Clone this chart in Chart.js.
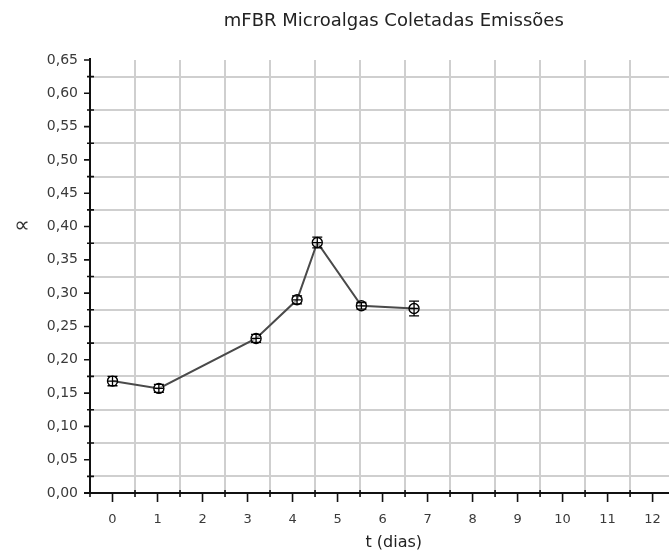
<!DOCTYPE html>
<html>
<head>
<meta charset="utf-8">
<script src="https://cdn.jsdelivr.net/npm/chart.js@4.4.1/dist/chart.umd.min.js"></script>
<style>
  html, body { margin: 0; padding: 0; background: #fff; overflow: hidden; }
</style>
</head>
<body>
<canvas id="chart" width="704" height="554"></canvas>
<script>
// measured values (t in days, alpha)
const days = [0, 1.03, 3.19, 4.1, 4.55, 5.53, 6.7];
const alpha = [0.168, 0.157, 0.232, 0.290, 0.376, 0.281, 0.277];
const alphaErr = [0.007, 0.006, 0.006, 0.006, 0.008, 0.005, 0.011];
const daysErr = [0.1, 0.1, 0.1, 0.1, 0.1, 0.1, 0.1];

const xMin = -0.5, xMax = 13, xStep = 0.5;
const yMin = 0, yMax = 0.65, yStep = 0.025;

const FONT = 'DejaVu Sans';

function makeTicks(min, max, step) {
    const out = [];
    const n = Math.round((max - min) / step);
    for (let i = 0; i <= n; i++) out.push({ value: +(min + i * step).toFixed(4) });
    return out;
}
const isMajorX = v => Math.abs(v - Math.round(v)) < 1e-6;
const isMajorY = v => Math.round(v * 1000) % 50 === 0;

// axis lines, tick marks, error bars and the y label
const axisPlugin = {
    id: 'axisPlugin',
    afterDatasetsDraw(chart) {
        const { ctx, scales: { x, y } } = chart;
        ctx.save();
        ctx.strokeStyle = '#000';
        ctx.lineWidth = 1.3;
        days.forEach((d, i) => {
            const px = x.getPixelForValue(d);
            const top = y.getPixelForValue(alpha[i] + alphaErr[i]);
            const bot = y.getPixelForValue(alpha[i] - alphaErr[i]);
            const py = y.getPixelForValue(alpha[i]);
            const l = x.getPixelForValue(d - daysErr[i]);
            const r = x.getPixelForValue(d + daysErr[i]);
            ctx.beginPath();
            ctx.moveTo(px, top); ctx.lineTo(px, bot);
            ctx.moveTo(px - 5, top); ctx.lineTo(px + 5, top);
            ctx.moveTo(px - 5, bot); ctx.lineTo(px + 5, bot);
            ctx.moveTo(l, py); ctx.lineTo(r, py);
            ctx.stroke();
        });
        ctx.restore();
    },
    afterDraw(chart) {
        const { ctx, chartArea: a, scales: { x, y } } = chart;
        ctx.save();
        ctx.strokeStyle = '#111';
        ctx.lineWidth = 2;
        ctx.beginPath();
        ctx.moveTo(a.left, a.top - 2);
        ctx.lineTo(a.left, a.bottom);
        ctx.moveTo(a.left - 6, a.bottom);
        ctx.lineTo(a.right, a.bottom);
        ctx.stroke();
        ctx.lineWidth = 1.6;
        ctx.beginPath();
        x.ticks.forEach(t => {
            const px = x.getPixelForValue(t.value);
            if (isMajorX(t.value)) { ctx.moveTo(px, a.bottom); ctx.lineTo(px, a.bottom + 9); }
            else { ctx.moveTo(px, a.bottom - 3); ctx.lineTo(px, a.bottom + 4); }
        });
        y.ticks.forEach(t => {
            const py = y.getPixelForValue(t.value);
            if (isMajorY(t.value)) { ctx.moveTo(a.left - 6, py); ctx.lineTo(a.left, py); }
            else { ctx.moveTo(a.left - 3, py); ctx.lineTo(a.left + 4, py); }
        });
        ctx.stroke();
        // y axis label (not rotated)
        ctx.fillStyle = '#333';
        ctx.font = '22px ' + FONT;
        ctx.textAlign = 'center';
        ctx.textBaseline = 'middle';
        ctx.fillText('∝', 22, 226);
        ctx.restore();
    }
};

new Chart(document.getElementById('chart').getContext('2d'), {
    type: 'line',
    data: {
        datasets: [{
            data: days.map((d, i) => ({ x: d, y: alpha[i] })),
            borderColor: '#4a4a4a',
            borderWidth: 2,
            pointRadius: 5,
            pointBorderWidth: 1.4,
            pointBorderColor: '#000',
            pointBackgroundColor: 'rgba(255,255,255,0.5)',
            tension: 0
        }]
    },
    options: {
        responsive: false,
        animation: false,
        layout: { padding: 0 },
        plugins: {
            legend: { display: false },
            tooltip: { enabled: false },
            title: {
                display: true,
                fullSize: false,
                text: 'mFBR Microalgas Coletadas Emissões',
                color: '#222',
                font: { family: FONT, size: 18, weight: 'normal' },
                padding: { top: 11, bottom: 27.4 }
            }
        },
        scales: {
            x: {
                type: 'linear',
                min: xMin,
                max: xMax,
                afterBuildTicks: s => { s.ticks = makeTicks(xMin, xMax, xStep); },
                afterFit: s => { s.height = 61; s.paddingLeft = 0; s.paddingRight = 0; },
                border: { display: false },
                grid: {
                    drawTicks: false,
                    lineWidth: 2,
                    color: c => isMajorX(c.tick.value) ? 'rgba(0,0,0,0)' : '#cfcfcf'
                },
                ticks: {
                    autoSkip: false,
                    maxRotation: 0,
                    padding: 19,
                    color: '#3a3a3a',
                    font: { family: FONT, size: 13 },
                    callback: v => (isMajorX(v) && v <= 12) ? String(Math.round(v)) : ''
                },
                title: {
                    display: true,
                    text: 't (dias)',
                    color: '#222',
                    font: { family: FONT, size: 16 },
                    padding: { top: 0, bottom: 2 }
                }
            },
            y: {
                type: 'linear',
                min: yMin,
                max: yMax,
                afterBuildTicks: s => { s.ticks = makeTicks(yMin, yMax, yStep); },
                afterFit: s => { s.width = 90; },
                border: { display: false },
                grid: {
                    drawTicks: false,
                    lineWidth: 2,
                    color: c => (isMajorY(c.tick.value) || c.tick.value >= yMax) ? 'rgba(0,0,0,0)' : '#cfcfcf'
                },
                ticks: {
                    autoSkip: false,
                    padding: 12,
                    color: '#3a3a3a',
                    font: { family: FONT, size: 14 },
                    callback: v => isMajorY(v) ? v.toFixed(2).replace('.', ',') : ''
                }
            }
        }
    },
    plugins: [axisPlugin]
});
</script>
</body>
</html>
